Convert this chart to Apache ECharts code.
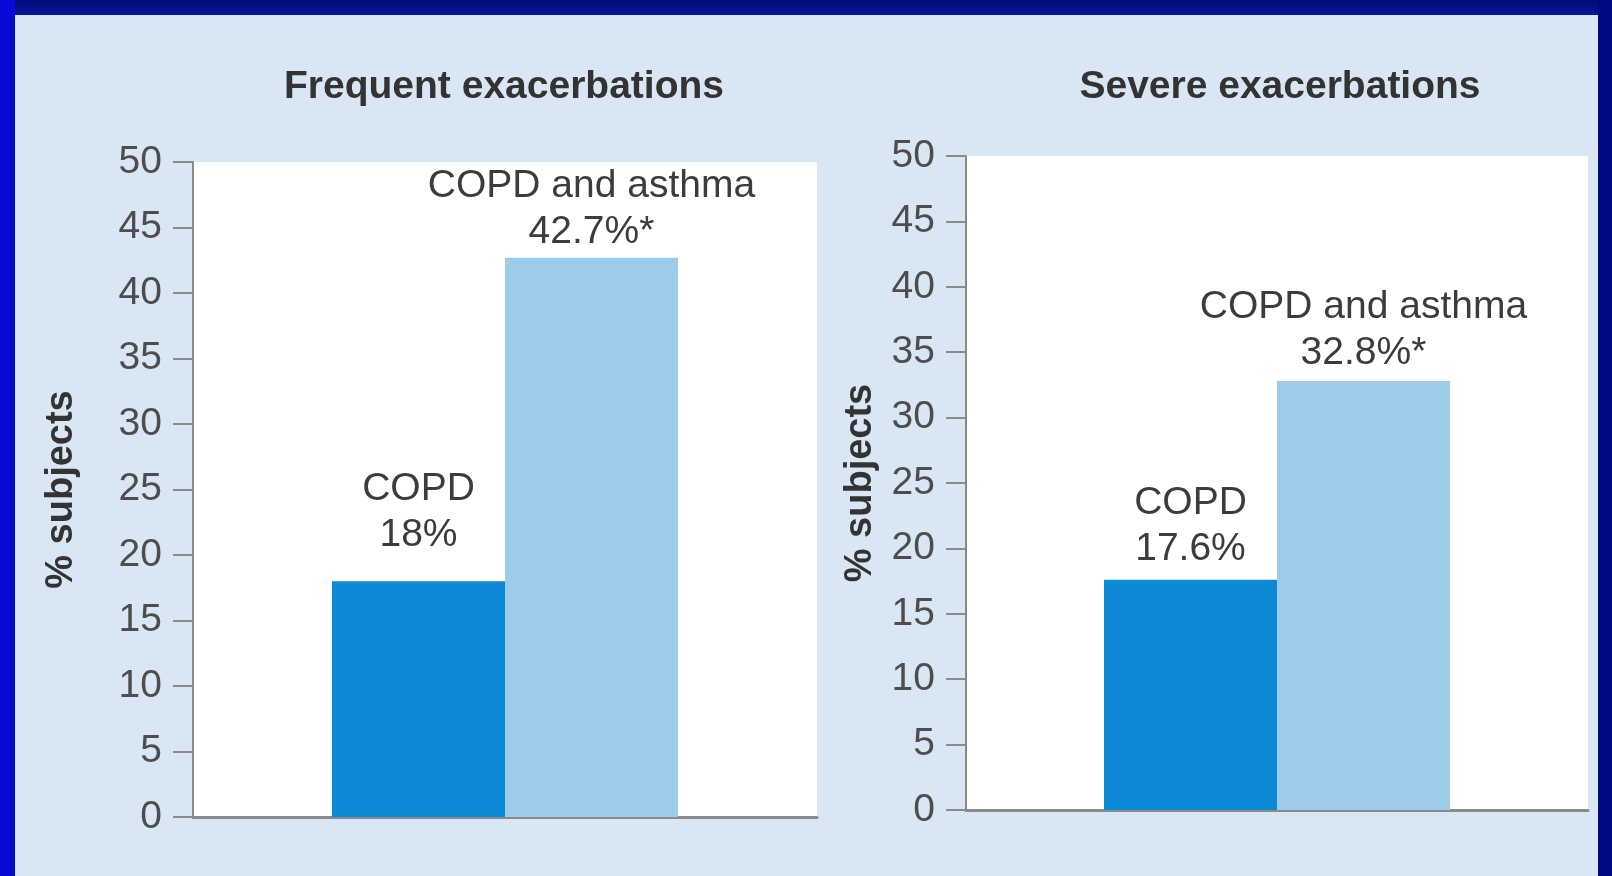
<!DOCTYPE html>
<html>
<head>
<meta charset="utf-8">
<title>Exacerbations: COPD vs COPD and asthma</title>
<script src="https://cdn.jsdelivr.net/npm/echarts@6/dist/echarts.min.js"></script>
<style>
  html, body { margin: 0; padding: 0; background: #d9e7f4; }
  #chart { width: 1612px; height: 876px; }
</style>
</head>
<body>
<div id="chart"></div>
<script>
// Panel titles and the two patient groups
const panelTitles = ['Frequent exacerbations', 'Severe exacerbations'];
const groupNames = ['COPD', 'COPD and asthma'];
// % of subjects per panel
const copdValues = [18, 17.6];
const copdAsthmaValues = [42.7, 32.8];
// Significance marker per group
const groupMarks = ['', '*'];
// Y axis scale
const yMin = 0;
const yMax = 50;
const yStep = 5;
const yAxisName = '% subjects';

const font = 'Liberation Sans, Arial, Helvetica, sans-serif';
const textColor = '#3c3c3c';
const axisColor = '#8a8a8a';
const barColors = ['#0c8ad6', '#9dcbec'];

// Layout of the two panels
const grids = [
  { left: 193, top: 162, width: 624, height: 655 },
  { left: 966, top: 156, width: 622, height: 654 }
];
const titleCenters = [[504, 68], [1280, 68]];
const nameGaps = [112, 86];
// Gap between each bar top and its label, per panel and group
const labelGaps = [[23, 2], [8, 5]];

const seriesValues = [copdValues, copdAsthmaValues];

const chart = echarts.init(document.getElementById('chart'), null, { renderer: 'canvas' });

const option = {
  backgroundColor: '#d9e7f4',
  animation: false,
  graphic: [
    { type: 'rect', shape: { x: 0, y: 0, width: 1612, height: 15 }, style: { fill: new echarts.graphic.LinearGradient(0, 0, 0, 1, [{ offset: 0, color: '#000a78' }, { offset: 1, color: '#06169a' }]) }, z: 10 },
    { type: 'rect', shape: { x: 0, y: 0, width: 15, height: 876 }, style: { fill: '#0a0ad8' }, z: 11 },
    { type: 'rect', shape: { x: 1598, y: 0, width: 14, height: 876 }, style: { fill: '#000a80' }, z: 11 }
  ],
  title: panelTitles.map((t, i) => ({
    text: t,
    left: titleCenters[i][0],
    top: titleCenters[i][1],
    textAlign: 'center',
    padding: 0,
    textStyle: { fontFamily: font, fontWeight: 'bold', fontSize: 39, color: '#333333' }
  })),
  grid: grids.map(g => Object.assign({ show: true, backgroundColor: '#ffffff', borderWidth: 0 }, g)),
  xAxis: grids.map((g, i) => ({
    type: 'category',
    gridIndex: i,
    data: [panelTitles[i]],
    axisLine: { show: true, lineStyle: { color: axisColor, width: 3 } },
    axisTick: { show: false },
    axisLabel: { show: false }
  })),
  yAxis: grids.map((g, i) => ({
    type: 'value',
    gridIndex: i,
    min: yMin,
    max: yMax,
    interval: yStep,
    name: yAxisName,
    nameLocation: 'middle',
    nameGap: nameGaps[i],
    nameTextStyle: { fontFamily: font, fontWeight: 'bold', fontSize: 38, color: '#333333' },
    axisLine: { show: true, lineStyle: { color: axisColor, width: 2 } },
    axisTick: { show: true, inside: false, length: 20, lineStyle: { color: axisColor, width: 2 } },
    axisLabel: { margin: 31, fontFamily: font, fontSize: 39, color: '#4d4d4d' },
    splitLine: { show: false }
  })),
  series: []
};

grids.forEach((g, panel) => {
  groupNames.forEach((name, k) => {
    const v = seriesValues[k][panel];
    option.series.push({
      type: 'bar',
      name: name,
      xAxisIndex: panel,
      yAxisIndex: panel,
      barWidth: 173,
      barGap: '0%',
      itemStyle: { color: barColors[k] },
      label: {
        show: true,
        position: 'top',
        distance: labelGaps[panel][k],
        fontFamily: font,
        fontSize: 39,
        lineHeight: 46,
        color: textColor,
        align: 'center',
        formatter: () => name + '\n' + v + '%' + groupMarks[k]
      },
      data: [v]
    });
  });
});

chart.setOption(option);
</script>
</body>
</html>
